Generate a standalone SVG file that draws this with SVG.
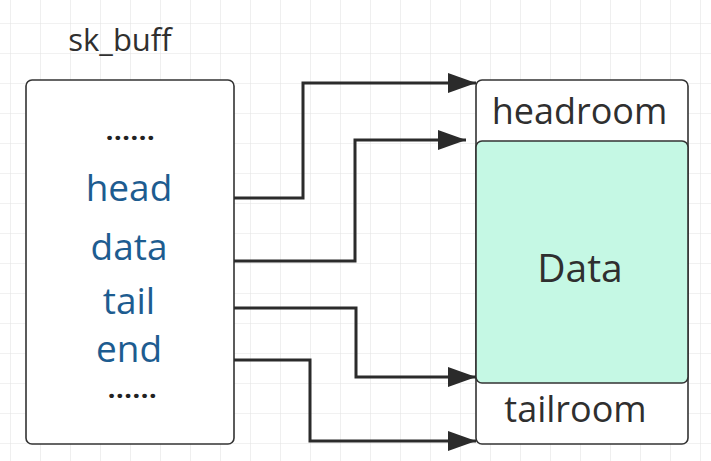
<svg xmlns="http://www.w3.org/2000/svg" width="711" height="461" viewBox="0 0 711 461">
  <defs>
    <pattern id="grid" x="10" y="23" width="30" height="30" patternUnits="userSpaceOnUse">
      <path d="M0 0 H30 M0 0 V30" fill="none" stroke="#e4e4e4" stroke-width="1.2"/>
    </pattern>
    <marker id="arrow" viewBox="0 0 28 20" refX="28" refY="10" markerWidth="28" markerHeight="20" markerUnits="userSpaceOnUse" orient="auto">
      <path d="M0 0 L28 10 L0 20 Z" fill="#2b2b2b"/>
    </marker>
    <style>
      .box { fill: #ffffff; stroke: #333333; stroke-width: 1.6; }
      .data { fill: #c5f8e4; stroke: #333333; stroke-width: 1.6; }
      .field { font-family: "Open Sans", "Noto Sans", sans-serif; font-size: 37px; fill: #1d5c90; text-anchor: middle; }
      .dots { font-family: "Open Sans", "Noto Sans", sans-serif; font-size: 23px; fill: #222222; text-anchor: middle; font-weight: 800; letter-spacing: 1.6px; }
      .label { font-family: "Open Sans", "Noto Sans", sans-serif; fill: #2f2f2f; text-anchor: middle; }
      .conn { fill: none; stroke: #2b2b2b; stroke-width: 3; marker-end: url(#arrow); }
    </style>
  </defs>
  <rect width="711" height="461" fill="#ffffff"/>
  <rect width="711" height="461" fill="url(#grid)"/>

  <text class="label" x="120" y="51" font-size="31">sk_buff</text>

  <g id="sk_buff">
    <rect class="box" x="26" y="80" width="208" height="364" rx="6"/>
    <text class="dots" x="131" y="140">......</text>
    <text class="field" x="129" y="201">head</text>
    <text class="field" x="129" y="260">data</text>
    <text class="field" x="129" y="314">tail</text>
    <text class="field" x="129" y="362">end</text>
    <text class="dots" x="133" y="398">......</text>
  </g>

  <g id="buffer">
    <rect class="box" x="476" y="80" width="212" height="364" rx="6"/>
    <text class="label" x="579.5" y="124" font-size="36">headroom</text>
    <text class="label" x="575.5" y="422" font-size="36">tailroom</text>
  </g>

  <g id="data">
    <rect class="data" x="476" y="141" width="212" height="242" rx="6"/>
    <text class="label" x="580" y="282" font-size="39" fill="#1f3b31">Data</text>
  </g>

  <g id="connectors">
    <path class="conn" d="M234 198 H303 V83 H476"/>
    <path class="conn" d="M234 261 H355 V140 H466"/>
    <path class="conn" d="M234 308 H356 V377 H476"/>
    <path class="conn" d="M234 360 H310 V441 H476"/>
  </g>
</svg>
